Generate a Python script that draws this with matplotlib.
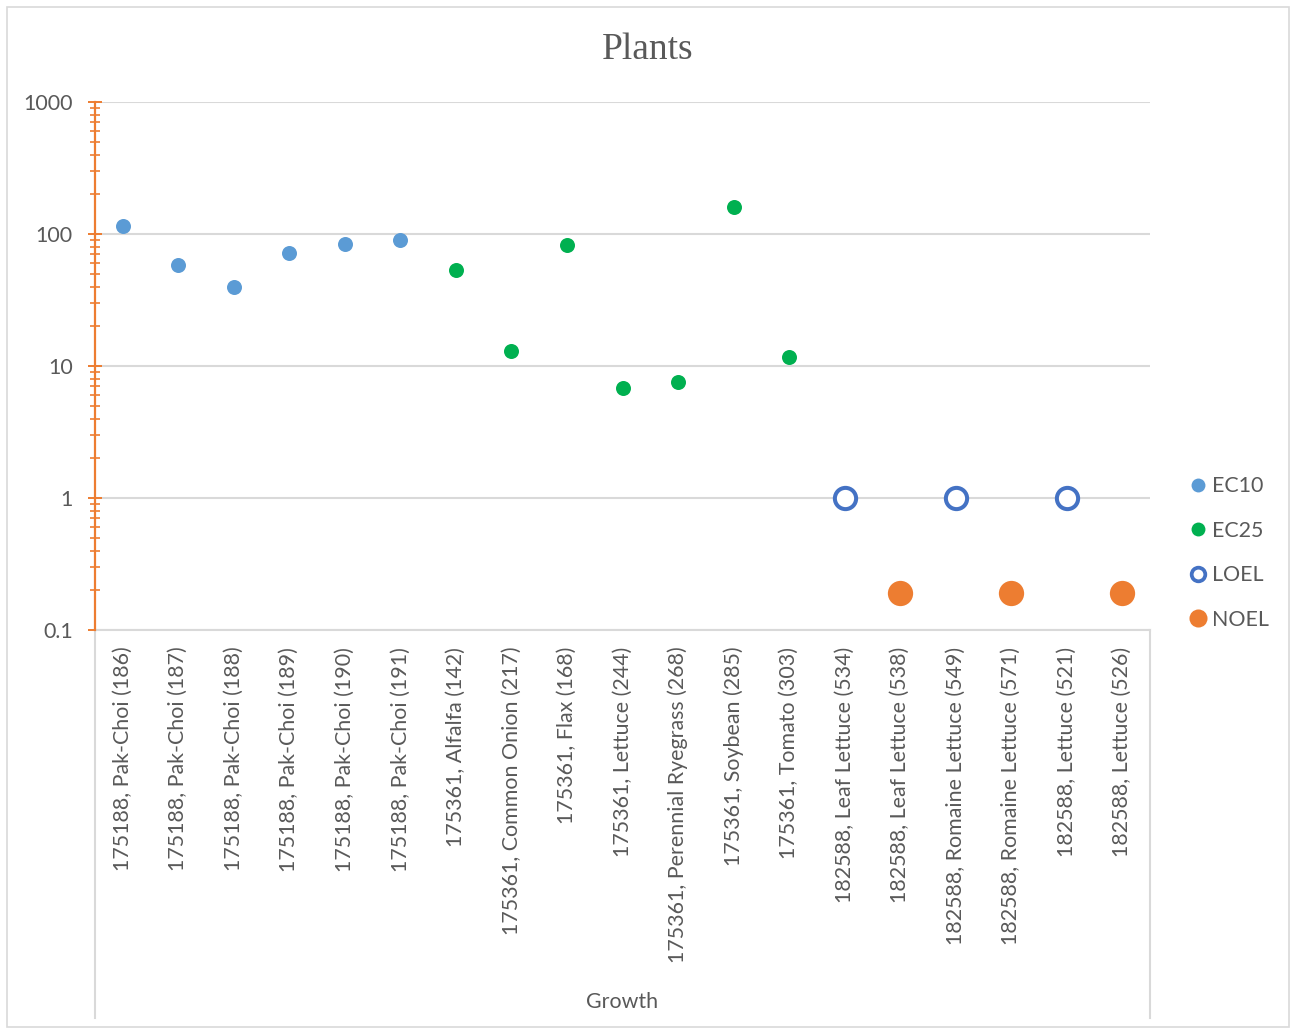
import matplotlib.pyplot as plt
from matplotlib.lines import Line2D
from matplotlib.patches import Rectangle
from matplotlib.ticker import LogLocator, NullFormatter

plt.rcParams["font.family"] = ["Lato", "DejaVu Sans"]

# category axis
categories = [
    "175188, Pak-Choi (186)", "175188, Pak-Choi (187)", "175188, Pak-Choi (188)",
    "175188, Pak-Choi (189)", "175188, Pak-Choi (190)", "175188, Pak-Choi (191)",
    "175361, Alfalfa (142)", "175361, Common Onion (217)", "175361, Flax (168)",
    "175361, Lettuce (244)", "175361, Perennial Ryegrass (268)", "175361, Soybean (285)",
    "175361, Tomato (303)", "182588, Leaf Lettuce (534)", "182588, Leaf Lettuce (538)",
    "182588, Romaine Lettuce (549)", "182588, Romaine Lettuce (571)",
    "182588, Lettuce (521)", "182588, Lettuce (526)",
]

ec10_cats = categories[0:6]
ec10_vals = [115, 58, 40, 72, 84, 90]

ec25_cats = categories[6:13]
ec25_vals = [53, 13, 83, 6.8, 7.6, 160, 11.8]

loel_cats = ["182588, Leaf Lettuce (534)", "182588, Romaine Lettuce (549)", "182588, Lettuce (521)"]
loel_vals = [1, 1, 1]

noel_cats = ["182588, Leaf Lettuce (538)", "182588, Romaine Lettuce (571)", "182588, Lettuce (526)"]
noel_vals = [0.19, 0.19, 0.19]

y_ticks = [0.1, 1, 10, 100, 1000]
y_tick_labels = ["0.1", "1", "10", "100", "1000"]

TXT = "#595959"
GRID = "#D9D9D9"
ORANGE = "#ED7D31"
FS = 15.4

W, H = 1292, 1030
fig = plt.figure(figsize=(W / 100, H / 100), dpi=100)
fig.patch.set_facecolor("white")
# outer chart border
fig.add_artist(Rectangle((7 / W, 3 / H), (W - 10) / W, (H - 10) / H,
                         transform=fig.transFigure, fill=False,
                         edgecolor=GRID, linewidth=1.2))

left, right, top, bottom = 95, 1150, 102, 630
ax = fig.add_axes([left / W, 1 - bottom / H, (right - left) / W, (bottom - top) / H])


def pos(cats):
    return [categories.index(c) for c in cats]


ax.plot(pos(ec10_cats), ec10_vals, "o", color="#5B9BD5", ms=10.8, mew=0, zorder=3)
ax.plot(pos(ec25_cats), ec25_vals, "o", color="#00B050", ms=10.8, mew=0, zorder=3)
ax.plot(pos(loel_cats), loel_vals, "o", mfc="white", mec="#4472C4", ms=15.3, mew=2.9, zorder=3)
ax.plot(pos(noel_cats), noel_vals, "o", color=ORANGE, ms=18.2, mew=0, zorder=3)

ax.set_yscale("log")
ax.set_ylim(0.1, 1000)
ax.set_xlim(-0.5, len(categories) - 0.5)

ax.set_yticks(y_ticks)
ax.set_yticklabels(y_tick_labels)
ax.yaxis.set_minor_locator(LogLocator(base=10, subs=range(2, 10)))
ax.yaxis.set_minor_formatter(NullFormatter())
ax.tick_params(axis="y", which="major", direction="inout", length=10, width=1.4,
               color=ORANGE, labelsize=FS, labelcolor=TXT, pad=11)
ax.tick_params(axis="y", which="minor", direction="inout", length=7, width=1.2, color=ORANGE)

ax.set_xticks(range(len(categories)))
ax.set_xticklabels(categories, rotation=90, fontsize=FS, color=TXT)
ax.tick_params(axis="x", length=0, pad=12)

ax.yaxis.grid(True, which="major", color=GRID, linewidth=1.5, zorder=0)
ax.set_axisbelow(True)

for s in ["top", "right"]:
    ax.spines[s].set_visible(False)
ax.spines["bottom"].set_color(GRID)
ax.spines["bottom"].set_linewidth(1.5)
ax.spines["left"].set_color(ORANGE)
ax.spines["left"].set_linewidth(1.6)
ax.spines["left"].set_zorder(4)

# category axis box lines below the plot
drop = (1018 - bottom) / (bottom - top)
for xa in (0, 1):
    ax.add_line(Line2D([xa, xa], [0, -drop], transform=ax.transAxes, color=GRID,
                       linewidth=1.5, clip_on=False, zorder=0))

fig.text((left + right) / 2 / W, 1 - 1002 / H, "Growth", ha="center", va="center",
         fontsize=FS, color=TXT)
fig.text(648 / W, 1 - 50 / H, "Plants", ha="center", va="center",
         fontsize=27, color=TXT, family="Liberation Serif")

handles = [
    Line2D([], [], ls="none", marker="o", color="#5B9BD5", ms=10, mew=0),
    Line2D([], [], ls="none", marker="o", color="#00B050", ms=10, mew=0),
    Line2D([], [], ls="none", marker="o", mfc="white", mec="#4472C4", ms=9.8, mew=2.7),
    Line2D([], [], ls="none", marker="o", color=ORANGE, ms=13, mew=0),
]
labels = ["EC10", "EC25", "LOEL", "NOEL"]
leg = fig.legend(handles, labels, loc="center left", bbox_to_anchor=(1189 / W, 1 - 553 / H),
                 frameon=False, fontsize=FS, labelcolor=TXT, handlelength=0.85,
                 handletextpad=0.22, labelspacing=1.15, borderpad=0, borderaxespad=0)

fig.savefig("out.png", dpi=100)
